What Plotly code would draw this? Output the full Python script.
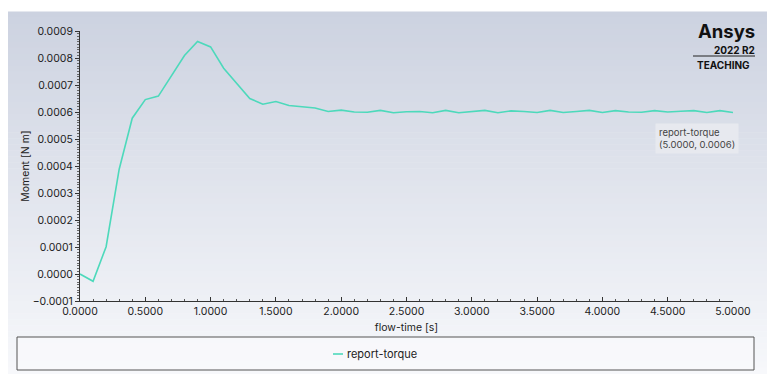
import plotly.graph_objects as go

flow_time = [0.0, 0.1, 0.2, 0.3, 0.4, 0.5, 0.6, 0.7, 0.8, 0.9,
             1.0, 1.1, 1.2, 1.3, 1.4, 1.5, 1.6, 1.7, 1.8, 1.9,
             2.0, 2.1, 2.2, 2.3, 2.4, 2.5, 2.6, 2.7, 2.8, 2.9,
             3.0, 3.1, 3.2, 3.3, 3.4, 3.5, 3.6, 3.7, 3.8, 3.9,
             4.0, 4.1, 4.2, 4.3, 4.4, 4.5, 4.6, 4.7, 4.8, 4.9, 5.0]
moment = [0.000000, -0.000027, 0.000101, 0.000388, 0.000577, 0.000646, 0.000659, 0.000735, 0.000809, 0.000861,
          0.000841, 0.000762, 0.000707, 0.000650, 0.000629, 0.000639, 0.000624, 0.000620, 0.000615, 0.000602,
          0.000607, 0.000600, 0.000599, 0.000606, 0.000597, 0.000601, 0.000602, 0.000597, 0.000606, 0.000597,
          0.000602, 0.000606, 0.000597, 0.000604, 0.000602, 0.000598, 0.000606, 0.000598, 0.000602, 0.000606,
          0.000598, 0.000605, 0.000600, 0.000599, 0.000605, 0.000600, 0.000603, 0.000605, 0.000598, 0.000605, 0.000598]
series_name = "report-torque"
x_ticks = [0.0, 0.5, 1.0, 1.5, 2.0, 2.5, 3.0, 3.5, 4.0, 4.5, 5.0]
y_ticks = [-0.0001, 0.0, 0.0001, 0.0002, 0.0003, 0.0004, 0.0005, 0.0006, 0.0007, 0.0008, 0.0009]

OFF = 8  # page body margin
W, H = 761, 366
L, R, T, B = 72, 36, 23, 73
pw, ph = W - L - R, H - T - B

def px_x(p):  # page pixel -> paper x
    return (p - OFF - L) / pw

def px_y(p):  # page pixel -> paper y
    return (H - B - (p - OFF)) / ph

LINE_COLOR = "#4dd9bb"
FONT = "Inter, Noto Sans"

fig = go.Figure()
fig.add_trace(go.Scatter(x=flow_time, y=moment, mode="lines", name=series_name,
                         line=dict(color=LINE_COLOR, width=1.6), showlegend=False))

shapes = []
# gradient background
top, bot = 12, 374
n = 60
c0 = (204, 210, 224)
c1 = (247, 248, 251)
for i in range(n):
    y0p = top + (bot - top) * i / n
    y1p = top + (bot - top) * (i + 1) / n
    f = (i + 0.5) / n
    c = tuple(round(c0[k] + (c1[k] - c0[k]) * f) for k in range(3))
    shapes.append(dict(type="rect", xref="paper", yref="paper", layer="below",
                       x0=px_x(8), x1=px_x(767), y0=px_y(y1p), y1=px_y(y0p) + 0.002,
                       fillcolor="rgb(%d,%d,%d)" % c, line=dict(width=0)))
# legend box
shapes.append(dict(type="rect", xref="paper", yref="paper", layer="below",
                   x0=px_x(17), x1=px_x(754), y0=px_y(370), y1=px_y(337),
                   fillcolor="rgba(250,250,252,0.6)", line=dict(color="#555555", width=1)))
# legend sample line
shapes.append(dict(type="line", xref="paper", yref="paper",
                   x0=px_x(333), x1=px_x(343), y0=px_y(354), y1=px_y(354),
                   line=dict(color=LINE_COLOR, width=1.6)))
# logo line
shapes.append(dict(type="line", xref="paper", yref="paper",
                   x0=px_x(693), x1=px_x(755), y0=px_y(56), y1=px_y(56),
                   line=dict(color="#222222", width=1)))

annotations = [
    dict(text=series_name, xref="paper", yref="paper", x=px_x(345), y=px_y(354),
         xanchor="left", yanchor="middle", showarrow=False,
         font=dict(family=FONT, size=11, color="#222222")),
    dict(text="<b>Ansys</b>", xref="paper", yref="paper", x=px_x(756), y=px_y(30.5),
         xanchor="right", yanchor="middle", showarrow=False, borderpad=0,
         font=dict(family=FONT, size=18.5, color="#111111")),
    dict(text="<b>2022 R2</b>", xref="paper", yref="paper", x=px_x(756), y=px_y(49.5),
         xanchor="right", yanchor="middle", showarrow=False, borderpad=0,
         font=dict(family=FONT, size=10, color="#111111")),
    dict(text="<b>TEACHING</b>", xref="paper", yref="paper", x=px_x(751), y=px_y(65),
         xanchor="right", yanchor="middle", showarrow=False, borderpad=0,
         font=dict(family=FONT, size=10, color="#111111")),
    dict(text="report-torque<br>(5.0000, 0.0006)", xref="paper", yref="paper",
         x=px_x(655), y=px_y(138), xanchor="left", yanchor="middle", align="left",
         showarrow=False, bgcolor="rgba(232,234,240,0.9)", borderpad=3,
         font=dict(family=FONT, size=9.5, color="#444444")),
]

fig.update_layout(
    width=W, height=H,
    margin=dict(l=L, r=R, t=T, b=B),
    paper_bgcolor="white", plot_bgcolor="rgba(0,0,0,0)",
    font=dict(family=FONT, size=10.5, color="#222222"),
    shapes=shapes, annotations=annotations,
    showlegend=False,
)
fig.update_xaxes(range=[0, 5], tickvals=x_ticks, tickformat=".4f",
                 showgrid=False, zeroline=False, showline=True, linecolor="#333333", linewidth=1,
                 ticks="inside", ticklen=4, tickcolor="#333333",
                 minor=dict(dtick=0.1, ticks="inside", ticklen=2, tickcolor="#555555", showgrid=False),
                 title=dict(text="flow-time [s]", standoff=7, font=dict(size=10.5)),
                 tickfont=dict(size=10.5))
fig.update_yaxes(range=[-0.0001, 0.0009], tickvals=y_ticks, tickformat=".4f",
                 showgrid=False, zeroline=False, showline=True, linecolor="#333333", linewidth=1,
                 ticks="outside", ticklen=4, tickcolor="#333333",
                 minor=dict(dtick=0.00001, ticks="outside", ticklen=2, tickcolor="#666666", showgrid=False),
                 title=dict(text="Moment [N m]", standoff=1, font=dict(size=10.5)),
                 tickfont=dict(size=10.5))

fig.write_html("out.html")
